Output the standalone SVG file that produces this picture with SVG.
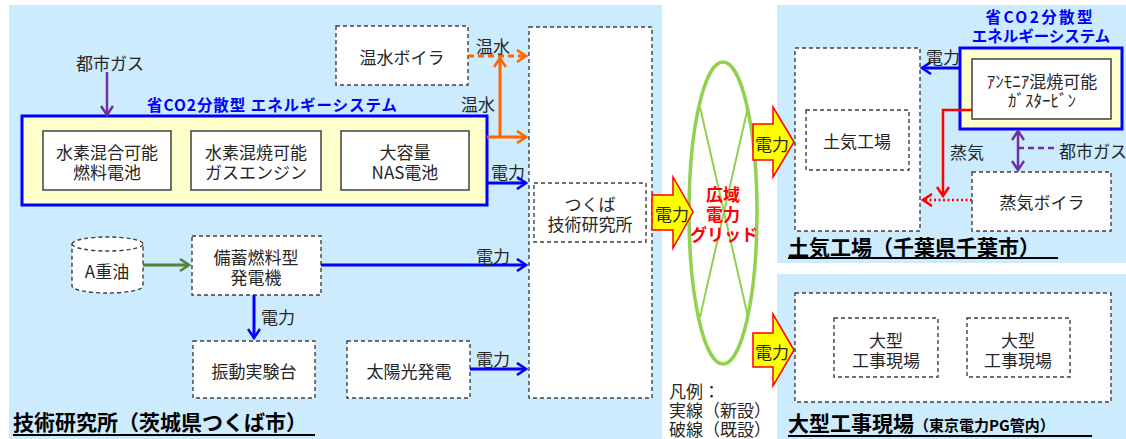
<svg xmlns="http://www.w3.org/2000/svg" width="1126" height="439" viewBox="0 0 1126 439">
<style>
text{font-family:"Noto Sans CJK JP","Noto Sans",sans-serif;fill:#262626;font-size:17px;dominant-baseline:central}
.c{text-anchor:middle}
.dash{fill:#fff;stroke:#404040;stroke-width:1.4;stroke-dasharray:4 3}
.solid{fill:#fff;stroke:#404040;stroke-width:1.5}
.ybox{fill:#FFFFCC;stroke:#0000FF;stroke-width:3}
.btitle{fill:#0000FF;font-weight:bold;font-size:15.5px}
.title{fill:#000;font-weight:bold;font-size:21px;dominant-baseline:auto}
.ul{stroke:#000;stroke-width:2}
.blk{fill:#FFFF00;stroke:#FF0000;stroke-width:1.5}
.blue{stroke:#0000FF;stroke-width:3;fill:none}
.orange{stroke:#FF6600;stroke-width:3;fill:none}
.purple{stroke:#7030A0;stroke-width:2.5;fill:none}
.red{stroke:#FF0000;stroke-width:2.5;fill:none}
.green{stroke:#548235;stroke-width:3;fill:none}
.grid{stroke:#92D050;fill:none}
.gt{fill:#FF0000;font-weight:bold}
</style>
<defs>
<marker id="aBlue" viewBox="0 0 12 14" refX="10" refY="7" markerWidth="12" markerHeight="14" markerUnits="userSpaceOnUse" orient="auto"><path d="M1,1 L10,7 L1,13" fill="none" stroke="#0000FF" stroke-width="2.5"/></marker>
<marker id="aOrange" viewBox="0 0 12 14" refX="10" refY="7" markerWidth="12" markerHeight="14" markerUnits="userSpaceOnUse" orient="auto"><path d="M1,1 L10,7 L1,13" fill="none" stroke="#FF6600" stroke-width="2.5"/></marker>
<marker id="aPurple" viewBox="0 0 12 14" refX="10" refY="7" markerWidth="12" markerHeight="14" markerUnits="userSpaceOnUse" orient="auto-start-reverse"><path d="M1,1 L10,7 L1,13" fill="none" stroke="#7030A0" stroke-width="2.5"/></marker>
<marker id="aRed" viewBox="0 0 12 14" refX="10" refY="7" markerWidth="12" markerHeight="14" markerUnits="userSpaceOnUse" orient="auto"><path d="M1,1 L10,7 L1,13" fill="none" stroke="#FF0000" stroke-width="2.5"/></marker>
<marker id="aGreen" viewBox="0 0 12 14" refX="10" refY="7" markerWidth="12" markerHeight="14" markerUnits="userSpaceOnUse" orient="auto"><path d="M1,1 L10,7 L1,13" fill="none" stroke="#548235" stroke-width="2.5"/></marker>
</defs>
<rect width="1126" height="439" fill="#fff"/>
<g id="panels">
<rect x="9" y="5" width="653" height="434" fill="#CCEBFD"/>
<rect x="777" y="5" width="349" height="258" fill="#CCEBFD"/>
<rect x="777" y="274" width="349" height="165" fill="#CCEBFD"/>
</g>

<!-- Tsukuba site -->
<g id="toshigas-left"><text class="c" x="110" y="62">都市ガス</text></g>
<g id="energy-system-left">
<text class="btitle" x="147" y="104" textLength="250" lengthAdjust="spacing">省CO2分散型  エネルギーシステム</text>
<rect class="ybox" x="22" y="116" width="465" height="89"/>
</g>
<g id="fuelcell"><rect class="solid" x="43" y="131" width="128" height="59"/><text class="c" x="107" y="151">水素混合可能</text><text class="c" x="107" y="171">燃料電池</text></g>
<g id="gasengine"><rect class="solid" x="191" y="131" width="130" height="59"/><text class="c" x="256" y="151">水素混焼可能</text><text class="c" x="256" y="171">ガスエンジン</text></g>
<g id="nas"><rect class="solid" x="341" y="131" width="128" height="59"/><text class="c" x="405" y="151">大容量</text><text class="c" x="405" y="171">NAS電池</text></g>
<g id="boiler-hw"><rect class="dash" x="336" y="26" width="132" height="59"/><text class="c" x="402" y="56">温水ボイラ</text></g>
<g id="tsukuba-main"><rect class="dash" x="529" y="27" width="123" height="371"/></g>
<g id="tsukuba-inner"><rect class="dash" x="534" y="183" width="112" height="59"/><text class="c" x="590" y="203">つくば</text><text class="c" x="590" y="223">技術研究所</text></g>
<g id="aheavy">
<path class="dash" d="M72,244 A35.5,7 0 0,1 143,244 L143,286 A35.5,7 0 0,1 72,286 Z"/>
<path class="dash" d="M72,244 A35.5,7 0 0,0 143,244" fill="none"/>
<text class="c" x="107" y="270">A重油</text>
</g>
<g id="backup-gen"><rect class="dash" x="192" y="236" width="129" height="59"/><text class="c" x="256" y="256">備蓄燃料型</text><text class="c" x="256" y="276">発電機</text></g>
<g id="vibration"><rect class="dash" x="193" y="341" width="122" height="57"/><text class="c" x="254" y="370">振動実験台</text></g>
<g id="solar"><rect class="dash" x="347" y="341" width="123" height="57"/><text class="c" x="409" y="370">太陽光発電</text></g>
<g id="title-left"><text class="title" x="13" y="430">技術研究所（茨城県つくば市）</text><line class="ul" x1="13" y1="435" x2="315" y2="435"/></g>

<!-- Grid -->
<g id="grid">
<ellipse class="grid" cx="723" cy="213" rx="34" ry="151" stroke-width="3.5"/>
<line class="grid" x1="700" y1="107" x2="748" y2="317" stroke-width="2"/>
<line class="grid" x1="748" y1="107" x2="700" y2="317" stroke-width="2"/>
<text class="c gt" x="723" y="193" font-size="17">広域</text>
<text class="c gt" x="723" y="213" font-size="17">電力</text>
<text class="c gt" x="724" y="233" font-size="13">グリッド</text>
</g>
<g id="arrow-tsukuba"><polygon class="blk" points="652,195 673,195 673,177 693,212 673,248 673,230 652,230"/><text class="c" x="672" y="213" font-size="16">電力</text></g>
<g id="arrow-toke"><polygon class="blk" points="753,124 773,124 773,107 794,142 773,177 773,160 753,160"/><text class="c" x="772" y="143" font-size="16">電力</text></g>
<g id="arrow-site"><polygon class="blk" points="753,333 773,333 773,314 794,350 773,386 773,367 753,367"/><text class="c" x="772" y="351" font-size="16">電力</text></g>

<!-- Toke factory -->
<g id="toke-main"><rect class="dash" x="795" y="48" width="125" height="183"/></g>
<g id="toke-inner"><rect class="dash" x="806" y="110" width="103" height="60"/><text class="c" x="857" y="140">土気工場</text></g>
<g id="energy-system-right">
<text class="btitle c" x="1039" y="16" textLength="107" lengthAdjust="spacing">省CO2分散型</text>
<text class="btitle c" x="1041" y="35">エネルギーシステム</text>
<rect class="ybox" x="960" y="48" width="162" height="81"/>
</g>
<g id="ammonia"><rect class="solid" x="972" y="59" width="139" height="60"/><text class="c" x="1042" y="80" font-size="16">ｱﾝﾓﾆｱ混焼可能</text><text class="c" x="1042" y="99" font-size="16">ｶﾞｽﾀｰﾋﾞﾝ</text></g>
<g id="steam-boiler"><rect class="dash" x="972" y="172" width="139" height="59"/><text class="c" x="1042" y="201">蒸気ボイラ</text></g>
<g id="toshigas-right"><text class="c" x="1093" y="150">都市ガス</text></g>
<g id="title-toke"><text class="title" x="788" y="255" font-size="22">土気工場（千葉県千葉市）</text><line class="ul" x1="788" y1="258" x2="1058" y2="258"/></g>

<!-- Construction sites -->
<g id="site-main"><rect class="dash" x="795" y="293" width="316" height="109"/></g>
<g id="site1"><rect class="dash" x="834" y="318" width="104" height="59"/><text class="c" x="886" y="339">大型</text><text class="c" x="886" y="359">工事現場</text></g>
<g id="site2"><rect class="dash" x="967" y="318" width="103" height="59"/><text class="c" x="1018" y="339">大型</text><text class="c" x="1018" y="359">工事現場</text></g>
<g id="title-site"><text class="title" x="788" y="431" font-size="22">大型工事現場<tspan font-size="15">（東京電力PG管内）</tspan></text><line class="ul" x1="788" y1="436" x2="1092" y2="436"/></g>

<g id="legend">
<text x="669" y="390" font-size="16">凡例：</text>
<text x="669" y="409" font-size="16">実線（新設）</text>
<text x="669" y="428" font-size="16">破線（既設）</text>
</g>

<g id="connectors">
<line class="purple" x1="107" y1="72" x2="107" y2="115" marker-end="url(#aPurple)"/>
<path class="orange" d="M468,56 L526,56" stroke-dasharray="6 4" marker-end="url(#aOrange)"/>
<path class="orange" d="M487,137 L526,137" marker-end="url(#aOrange)"/>
<path class="orange" d="M500,137 L500,58" marker-end="url(#aOrange)"/>
<text x="493" y="45" class="c">温水</text>
<text x="478" y="103" class="c">温水</text>
<path class="blue" d="M487,183 L526,183" marker-end="url(#aBlue)"/>
<text x="508" y="171" class="c">電力</text>
<path class="green" d="M143,265 L189,265" marker-end="url(#aGreen)"/>
<path class="blue" d="M321,265 L526,265" marker-end="url(#aBlue)"/>
<text x="493" y="255" class="c">電力</text>
<path class="blue" d="M254,295 L254,338" marker-end="url(#aBlue)"/>
<text x="278" y="316" class="c">電力</text>
<path class="blue" d="M470,369 L526,369" marker-end="url(#aBlue)"/>
<text x="493" y="358" class="c">電力</text>
<path class="blue" d="M960,68 L922,68" marker-end="url(#aBlue)"/>
<text x="943" y="56" class="c">電力</text>
<path class="red" d="M972,110 L943,110 L943,196" marker-end="url(#aRed)"/>
<text x="967" y="151" class="c">蒸気</text>
<path class="red" d="M972,200 L923,200" stroke-dasharray="2 2.5" marker-end="url(#aRed)"/>
<path class="purple" d="M1018,131 L1018,170" marker-start="url(#aPurple)" marker-end="url(#aPurple)"/>
<path class="purple" d="M1018,148 L1058,148" stroke-dasharray="6 4"/>
</g>
</svg>
